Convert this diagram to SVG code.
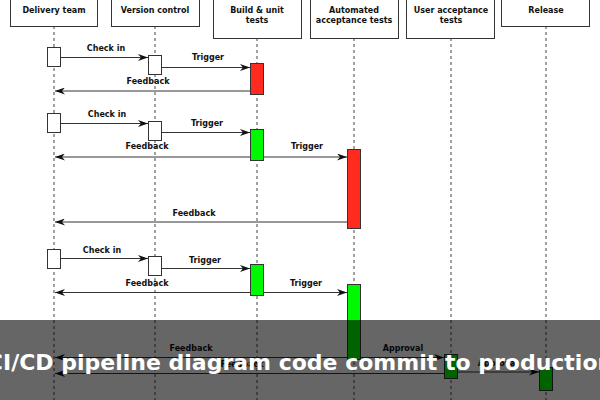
<svg xmlns="http://www.w3.org/2000/svg" width="600" height="400" viewBox="0 0 600 400">
<defs>
<style>
.hdr{fill:#fff;stroke:#333;stroke-width:1}
.ht{font-family:"DejaVu Sans",sans-serif;font-weight:bold;font-size:8px;fill:#111;text-anchor:middle}
.life{stroke:#444;stroke-width:1;stroke-dasharray:3,3}
.act{stroke:#333;stroke-width:1}
.w{fill:#fff}.r{fill:#ff2b1f}.g{fill:#00f800}
.msg{stroke:#333;stroke-width:1;fill:none;marker-end:url(#ah)}
.lbl{font-family:"DejaVu Sans",sans-serif;font-weight:bold;font-size:8px;fill:#111;text-anchor:middle}
.title{font-family:"DejaVu Sans",sans-serif;font-weight:bold;font-size:22px;fill:#fff;text-anchor:middle}
</style>
<marker id="ah" viewBox="0 0 10 7" refX="10" refY="3.5" markerWidth="10" markerHeight="7" markerUnits="userSpaceOnUse" orient="auto">
<path d="M0,0 L10,3.5 L0,7 L3,3.5 z" fill="#111"/>
</marker>
</defs>
<rect width="600" height="400" fill="#fff"/>
<g id="lifelines">
<line class="life" x1="54" y1="26" x2="54" y2="400"/>
<line class="life" x1="155" y1="26" x2="155" y2="400"/>
<line class="life" x1="257" y1="38" x2="257" y2="400"/>
<line class="life" x1="354" y1="38" x2="354" y2="400"/>
<line class="life" x1="451" y1="38" x2="451" y2="400"/>
<line class="life" x1="546" y1="26" x2="546" y2="400"/>
</g>
<g id="delivery-team"><rect class="hdr" x="10.5" y="-10" width="87" height="36.5"/><text class="ht" x="54" y="12.5">Delivery team</text></g>
<g id="version-control"><rect class="hdr" x="111.5" y="-10" width="88" height="36.5"/><text class="ht" x="155" y="12.5">Version control</text></g>
<g id="build-unit-tests"><rect class="hdr" x="213.5" y="-10" width="88" height="48.5"/><text class="ht" x="257" y="12.5">Build &amp; unit</text><text class="ht" x="257" y="23">tests</text></g>
<g id="automated-acceptance-tests"><rect class="hdr" x="310.5" y="-10" width="88" height="48.5"/><text class="ht" x="354" y="12.5">Automated</text><text class="ht" x="354" y="23">acceptance tests</text></g>
<g id="user-acceptance-tests"><rect class="hdr" x="406.5" y="-10" width="88" height="48.5"/><text class="ht" x="451" y="12.5">User acceptance</text><text class="ht" x="451" y="23">tests</text></g>
<g id="release"><rect class="hdr" x="501.5" y="-10" width="88" height="36.5"/><text class="ht" x="546" y="12.5">Release</text></g>
<g id="connectors">
<line class="msg" x1="61" y1="57.5" x2="148" y2="57.5"/>
<line class="msg" x1="162" y1="67.5" x2="250" y2="67.5"/>
<line class="msg" x1="250" y1="91" x2="55" y2="91"/>
<line class="msg" x1="61" y1="123.5" x2="148" y2="123.5"/>
<line class="msg" x1="162" y1="132.5" x2="250" y2="132.5"/>
<line class="msg" x1="250" y1="157" x2="55" y2="157"/>
<line class="msg" x1="264" y1="157" x2="347" y2="157"/>
<line class="msg" x1="347" y1="222" x2="55" y2="222"/>
<line class="msg" x1="61" y1="258.5" x2="148" y2="258.5"/>
<line class="msg" x1="162" y1="268.5" x2="250" y2="268.5"/>
<line class="msg" x1="250" y1="292.5" x2="55" y2="292.5"/>
<line class="msg" x1="264" y1="292.5" x2="347" y2="292.5"/>
<line class="msg" x1="347" y1="357.5" x2="55" y2="357.5"/>
<line class="msg" x1="361" y1="357.5" x2="444" y2="357.5"/>
<line class="msg" x1="444" y1="373.5" x2="55" y2="373.5"/>
<line class="msg" x1="458" y1="372" x2="539" y2="372"/>
<text class="lbl" x="106" y="51">Check in</text>
<text class="lbl" x="208" y="60">Trigger</text>
<text class="lbl" x="148" y="84">Feedback</text>
<text class="lbl" x="107" y="117">Check in</text>
<text class="lbl" x="207" y="126">Trigger</text>
<text class="lbl" x="147" y="149">Feedback</text>
<text class="lbl" x="307" y="149">Trigger</text>
<text class="lbl" x="194" y="216">Feedback</text>
<text class="lbl" x="102" y="253">Check in</text>
<text class="lbl" x="205" y="263">Trigger</text>
<text class="lbl" x="147" y="286">Feedback</text>
<text class="lbl" x="306" y="286">Trigger</text>
<text class="lbl" x="191" y="351">Feedback</text>
<text class="lbl" x="403" y="351">Approval</text>
<text class="lbl" x="242" y="367">Feedback</text>
<text class="lbl" x="498" y="366">Approval</text>
</g>
<g id="activations">
<rect class="act w" x="47.5" y="47.5" width="13" height="19"/>
<rect class="act w" x="148.5" y="55.5" width="13" height="19"/>
<rect class="act r" x="250.5" y="63.5" width="13" height="31"/>
<rect class="act w" x="47.5" y="113.5" width="13" height="19"/>
<rect class="act w" x="148.5" y="121.5" width="13" height="19"/>
<rect class="act g" x="250.5" y="129.5" width="13" height="31"/>
<rect class="act r" x="347.5" y="149.5" width="13" height="79"/>
<rect class="act w" x="47.5" y="249.5" width="13" height="19"/>
<rect class="act w" x="148.5" y="256.5" width="13" height="19"/>
<rect class="act g" x="250.5" y="264.5" width="13" height="31"/>
<rect class="act g" x="347.5" y="284.5" width="13" height="75"/>
<rect class="act g" x="444.5" y="354.5" width="13" height="24"/>
<rect class="act g" x="539.5" y="367.5" width="13" height="23"/>
</g>
<rect x="0" y="320" width="600" height="80" fill="#000" fill-opacity="0.6"/>
<text class="title" x="300" y="370">CI/CD pipeline diagram code commit to production</text>
</svg>
